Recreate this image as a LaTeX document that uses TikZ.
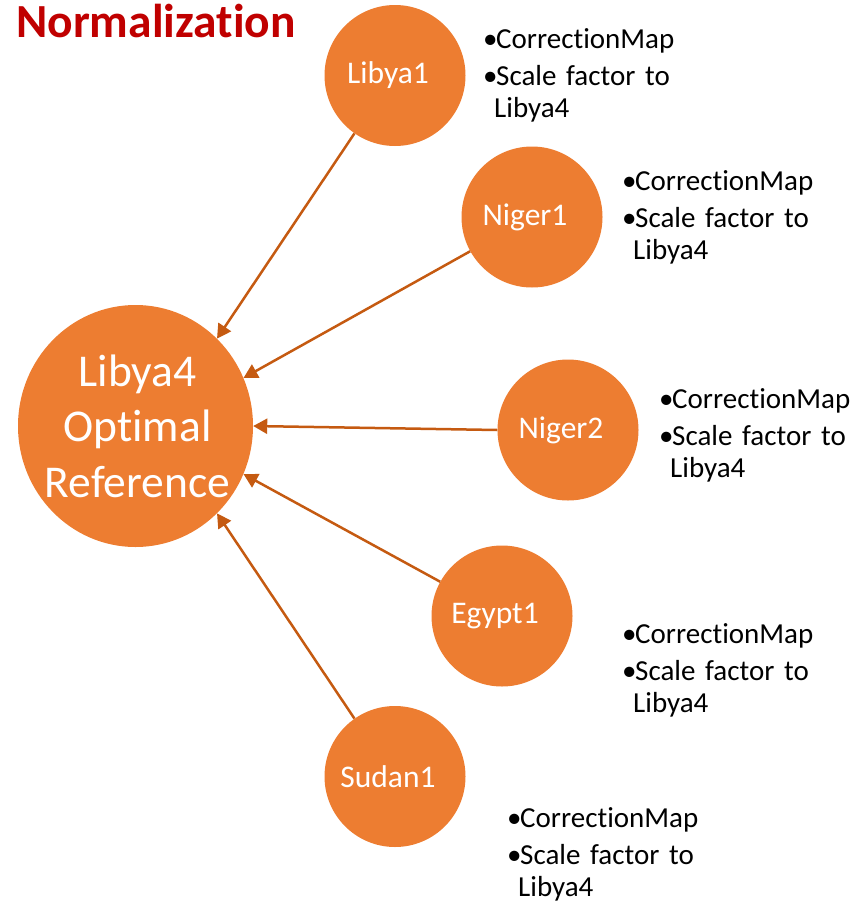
\documentclass[tikz,border=0pt]{standalone}
\usepackage{fontspec}
\setmainfont{Carlito}[Ligatures=NoCommon]
\usetikzlibrary{arrows.meta,shapes.geometric}
\definecolor{nodeorange}{HTML}{ED7D31}
\definecolor{linkorange}{HTML}{C55A11}
\definecolor{titlered}{HTML}{C00000}
\tikzset{
  hub/.style={ellipse, fill=nodeorange, draw=none, minimum width=235pt, minimum height=242pt,
    inner sep=0pt},
  hubtext/.style={text=white, align=center, inner sep=0pt, xshift=2pt,
    font=\fontsize{45.5}{55.5}\selectfont},
  site/.style={circle, fill=nodeorange, draw=none, minimum size=141pt, inner sep=0pt},
  sitetext/.style={text=white, inner sep=0pt, xshift=-7pt, font=\fontsize{31.5}{38}\selectfont},
  link/.style={draw=linkorange, line width=2.5pt, -{Triangle[length=14pt,width=15pt]}},
  notes/.style={anchor=base west, inner sep=0pt, text width=260pt, align=left,
    font=\fontsize{29}{32}\selectfont},
  heading/.style={anchor=base west, inner sep=0pt, text=titlered,
    font=\fontsize{47.5}{52}\selectfont\bfseries}
}
% a zero kern keeps "t" and "i" as separate glyphs
\newcommand\ti{t\kern0pt i}
\newcommand\itemnotes{\makebox[13pt][l]{•}Correc\ti onMap\\[5pt]\makebox[13pt][l]{•}Scale factor to\\\hspace*{11pt}Libya4}
\begin{document}
\begin{tikzpicture}[x=1pt,y=-1pt]
\useasboundingbox (0,0) rectangle (863,902);

\node[heading] (title) at (16,37) {Normaliza\ti on};

% reference node
\node[hub, label={[hubtext]center:{Libya4\\Op\ti mal\\Reference}}] (ref) at (135.5,426) {};

% source nodes
\node[site, label={[sitetext]center:Libya1}] (libya1) at (395,75.5) {};
\node[site, label={[sitetext]center:Niger1}] (niger1) at (532,217) {};
\node[site, label={[sitetext]center:Niger2}] (niger2) at (568,430) {};
\node[site, label={[sitetext]center:Egypt1}] (egypt1) at (502,616) {};
\node[site, label={[sitetext]center:Sudan1}] (sudan1) at (395,776.5) {};

% links towards the reference
\draw[link] (libya1.235) -- (ref.47);
\draw[link] (niger1.209) -- (ref.24);
\draw[link] (niger2.180) -- (ref.0);
\draw[link] (egypt1.151) -- (ref.-24);
\draw[link] (sudan1.125) -- (ref.-47);

% per-node notes
\node[notes] (n1) at (483,48) {\itemnotes};
\node[notes] (n2) at (622,190) {\itemnotes};
\node[notes] (n3) at (659,408) {\itemnotes};
\node[notes] (n4) at (622,643) {\itemnotes};
\node[notes] (n5) at (507,827) {\itemnotes};
\end{tikzpicture}
\end{document}
